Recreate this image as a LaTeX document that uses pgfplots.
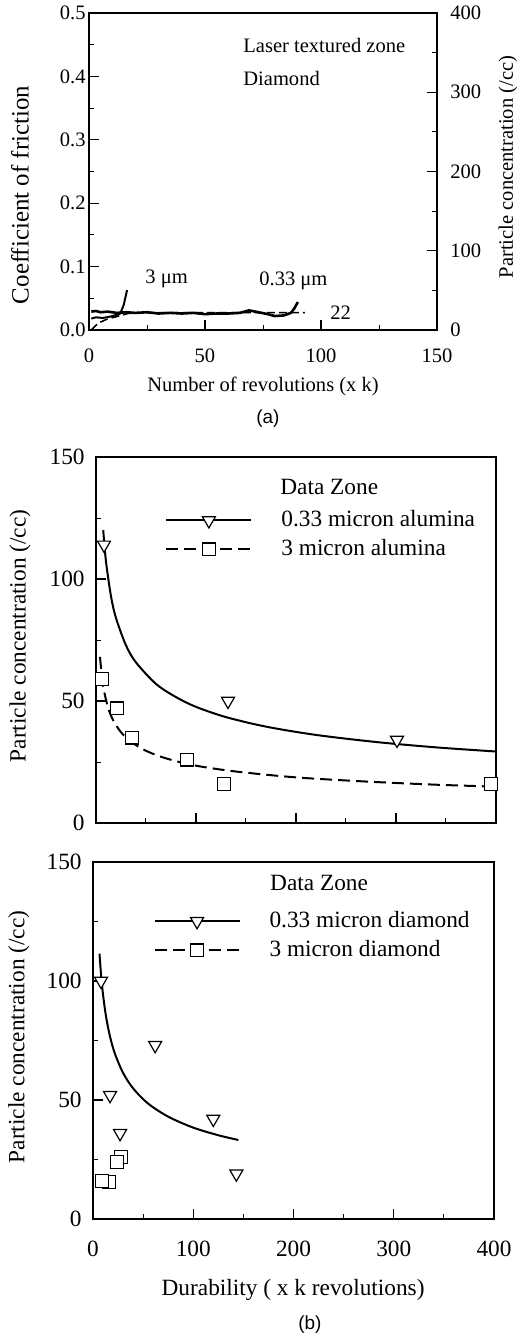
\documentclass[border=0pt]{standalone}
\usepackage{fontspec}
\setmainfont{Liberation Serif}
\newfontfamily\arialfont{Liberation Sans}
\usepackage{pgfplots}
\pgfplotsset{compat=1.18}

\newcommand\fa{\fontsize{10.3}{12}\selectfont}
\newcommand\fb{\fontsize{11.7}{14}\selectfont}

\pgfplotsset{
  refstyle/.style={
    scale only axis, clip=false,
    tick align=inside,
    axis line style={line width=1.1bp},
    major tick style={line width=0.6bp, black},
    minor tick style={line width=0.5bp, black},
    major tick length=5bp, minor tick length=2.5bp,
    minor tick num=1,
    /pgf/number format/assume math mode=true,
  },
  triM/.style={only marks, mark=triangle*, mark size=3.75bp,
    mark options={solid, fill=white, rotate=180, line width=0.6bp}},
  sqM/.style={only marks, mark=square*, mark size=3.2bp,
    mark options={solid, fill=white, line width=0.6bp}},
  fitS/.style={black, line width=1bp, smooth, no marks},
  fitD/.style={black, line width=1bp, smooth, no marks, dash pattern=on 6bp off 3bp},
  legstyle/.style={
    legend cell align=left,
    legend image code/.code={\draw[mark repeat=2,mark phase=2,##1] plot coordinates {(0bp,0bp) (21.25bp,0bp) (42.5bp,0bp)};},
    legend style={draw=none, fill=none, inner sep=0pt, row sep=4.5bp,
      nodes={inner sep=0pt, text height=8bp, text depth=2bp, font=\fb},
      /tikz/every odd column/.append style={column sep=14.5bp}},
  },
}

\begin{document}
\begin{tikzpicture}
\useasboundingbox (0,0) rectangle (259bp,-671bp);

% ---------- (a) coefficient of friction ----------
\begin{axis}[refstyle,
  at={(44.5bp,-165bp)}, anchor=south west,
  width=174bp, height=158.5bp,
  xmin=0, xmax=150, ymin=0, ymax=0.5,
  xtick={0,50,100,150}, ytick={0,0.1,0.2,0.3,0.4,0.5},
  xtick pos=left, ytick pos=left,
  tick label style={font=\fa},
  yticklabel style={/pgf/number format/fixed, /pgf/number format/fixed zerofill, /pgf/number format/precision=1},
  yticklabel style={inner sep=0pt, xshift=-1.5bp},
  xticklabel style={inner sep=0pt, yshift=-9bp},
  xlabel={Number of revolutions (x k)},
  every axis x label/.style={at={(rel axis cs:0.5,-0.177)}, anchor=center, font=\fa},
  ylabel={Coefficient of friction},
  every axis y label/.style={at={(rel axis cs:-0.198,0.426)}, anchor=center, rotate=90, font=\fontsize{12.5}{14}\selectfont},
]
% 0.33 micron
\addplot[black, line width=1.3bp] coordinates {
 (1,0.029)(3,0.030)(5,0.028)(8,0.029)(12,0.027)(16,0.028)(20,0.027)(25,0.028)
 (30,0.026)(35,0.027)(40,0.026)(45,0.027)(50,0.025)(55,0.026)(60,0.026)(65,0.027)
 (69,0.031)(73,0.028)(77,0.025)(80,0.022)(84,0.023)(87,0.027)(88.5,0.034)(90,0.044)};
% 3 micron
\addplot[black, line width=1bp] coordinates {
 (1,0.018)(3,0.020)(6,0.019)(9,0.021)(12,0.024)(13.5,0.026)(15,0.040)(16.4,0.063)};
\node[anchor=west, inner sep=0pt, font=\fa] at (rel axis cs:0.4425,0.899) {Laser textured zone};
\node[anchor=west, inner sep=0pt, font=\fa] at (rel axis cs:0.4425,0.795) {Diamond};
\node[anchor=west, inner sep=0pt, font=\fa] at (rel axis cs:0.161,0.161) {3 μm};
\node[anchor=west, inner sep=0pt, font=\fa] at (rel axis cs:0.4885,0.1546) {0.33 μm};
\node[anchor=west, inner sep=0pt, font=\fa] at (rel axis cs:0.6925,0.0536) {22};
\node[font=\arialfont\fontsize{9.5}{11}\selectfont] at (rel axis cs:0.514,-0.278) {(a)};
\end{axis}

\begin{axis}[refstyle,
  at={(44.5bp,-165bp)}, anchor=south west,
  width=174bp, height=158.5bp,
  xmin=0, xmax=150, ymin=0, ymax=400,
  axis y line*=right, axis x line=none,
  ytick={0,100,200,300,400},
  tick label style={font=\fa},
  yticklabel style={inner sep=0pt, xshift=6.5bp},
  ylabel={Particle concentration (/cc)},
  every axis y label/.style={at={(rel axis cs:1.204,0.514)}, anchor=center, rotate=90, font=\fa},
]
\addplot[black, line width=0.8bp, dash pattern=on 4bp off 2bp] coordinates {
 (1,0)(3,6)(5,10)(8,14)(12,17)(17,21)(25,22)(40,22)(60,22)(80,22)(93,22)};
\end{axis}

% ---------- (b) upper: alumina ----------
\begin{axis}[refstyle, legstyle,
  at={(48bp,-411.5bp)}, anchor=south west,
  width=200bp, height=183bp,
  xmin=0, xmax=400, ymin=0, ymax=150,
  xtick={0,100,200,300,400}, xticklabels={},
  ytick={0,50,100,150},
  xtick pos=left, ytick pos=left,
  tick label style={font=\fb},
  yticklabel style={inner sep=0pt, xshift=-5.5bp},
  ylabel={Particle concentration (/cc)},
  every axis y label/.style={at={(rel axis cs:-0.19,0.511)}, anchor=center, rotate=90, font=\fb},
  legend style={at={(rel axis cs:0.1725,0.855)}, anchor=north west},
]
\addlegendimage{black, line width=1bp, mark=triangle*, mark size=3.75bp, mark options={solid, fill=white, rotate=180, line width=0.6bp}}
\addlegendentry{0.33 micron alumina}
\addlegendimage{black, line width=1bp, dash pattern=on 6bp off 3bp, mark=square*, mark size=3.2bp, mark options={solid, fill=white, line width=0.6bp}}
\addlegendentry{3 micron alumina}
\addplot[fitS, forget plot] coordinates {
 (7.3,120)(7.5,118.6)(10,107.1)(15,92.9)(20,84)(30,72.8)(40,65.8)(60,57)(80,51.6)
 (100,47.6)(130,43.4)(170,39.5)(220,36.1)(280,33.2)(340,31)(400,29.3)};
\addplot[fitD, forget plot] coordinates {
 (4,68.1)(6,59.6)(8,54.2)(12,47.4)(17,42.2)(25,37.2)(35,33.3)(50,29.6)(70,26.5)
 (100,23.5)(140,21.1)(200,18.7)(270,17)(340,15.7)(400,14.9)};
\addplot[triM, forget plot] coordinates {(8,114)(132,50)(301,34)};
\addplot[sqM, forget plot] coordinates {(6,59)(21,47)(36,35)(91,26)(128,16)(395,16)};
\node[anchor=west, inner sep=0pt, font=\fb] at (rel axis cs:0.46,0.918) {Data Zone};
\end{axis}

% ---------- (b) lower: diamond ----------
\begin{axis}[refstyle, legstyle,
  at={(46.5bp,-609.5bp)}, anchor=south west,
  width=200.5bp, height=178.5bp,
  xmin=0, xmax=400, ymin=0, ymax=150,
  xtick={0,100,200,300,400},
  ytick={0,50,100,150},
  xtick pos=left, ytick pos=left,
  tick label style={font=\fb},
  yticklabel style={inner sep=0pt, xshift=-5.5bp},
  xticklabel style={inner sep=0pt, yshift=-11bp},
  xlabel={Durability ( x k revolutions)},
  every axis x label/.style={at={(rel axis cs:0.499,-0.199)}, anchor=center, font=\fb},
  ylabel={Particle concentration (/cc)},
  every axis y label/.style={at={(rel axis cs:-0.185,0.51)}, anchor=center, rotate=90, font=\fb},
  legend style={at={(rel axis cs:0.15,0.863)}, anchor=north west},
]
\addlegendimage{black, line width=1bp, mark=triangle*, mark size=3.75bp, mark options={solid, fill=white, rotate=180, line width=0.6bp}}
\addlegendentry{0.33 micron diamond}
\addlegendimage{black, line width=1bp, dash pattern=on 6bp off 3bp, mark=square*, mark size=3.2bp, mark options={solid, fill=white, line width=0.6bp}}
\addlegendentry{3 micron diamond}
\addplot[fitS, forget plot] coordinates {
 (6.5,111.5)(8,102.8)(10,94.3)(13,85.1)(17,76.6)(22,69.3)(30,61.4)(40,54.9)
 (55,48.5)(75,43)(100,38.4)(125,35.2)(145,33.2)};
\addplot[triM, forget plot] coordinates {(8,100)(17,52)(27,36)(62,73)(120,42)(143,19)};
\addplot[sqM, forget plot] coordinates {(16,15.5)(9,16)(28,26)(24,24)};
\node[anchor=west, inner sep=0pt, font=\fb] at (rel axis cs:0.441,0.941) {Data Zone};
\node[font=\arialfont\fontsize{9.5}{11}\selectfont] at (rel axis cs:0.541,-0.297) {(b)};
\end{axis}
\end{tikzpicture}
\end{document}
